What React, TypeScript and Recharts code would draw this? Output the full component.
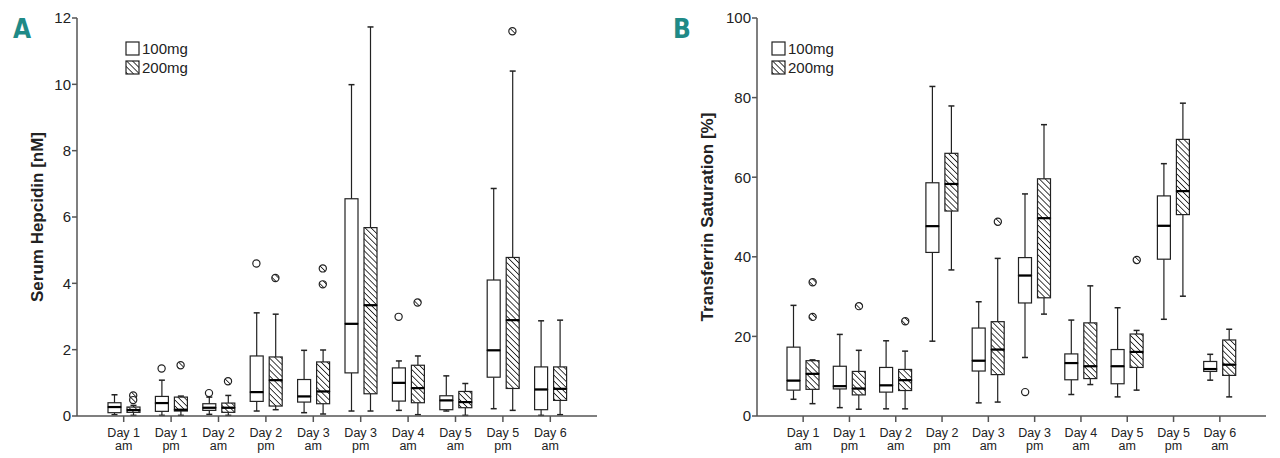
import React from 'react';
import { ComposedChart, Bar, Scatter, XAxis, YAxis, Legend } from 'recharts';

// [min, q1, median, q3, max]
type Five = number[];

const categories = ['Day 1 am', 'Day 1 pm', 'Day 2 am', 'Day 2 pm', 'Day 3 am', 'Day 3 pm', 'Day 4 am', 'Day 5 am', 'Day 5 pm', 'Day 6 am'];
const doses = ['100mg', '200mg'];

const hepcidin100: Five[] = [
  [0.04, 0.1, 0.27, 0.4, 0.64],
  [0.02, 0.14, 0.39, 0.59, 1.08],
  [0.05, 0.17, 0.25, 0.37, 0.57],
  [0.15, 0.44, 0.72, 1.81, 3.11],
  [0.1, 0.42, 0.59, 1.1, 1.98],
  [0.15, 1.3, 2.78, 6.55, 9.99],
  [0.17, 0.45, 1.0, 1.45, 1.66],
  [0.15, 0.19, 0.47, 0.61, 1.21],
  [0.22, 1.17, 1.98, 4.1, 6.86],
  [0.02, 0.19, 0.8, 1.48, 2.87],
];
const hepcidin200: Five[] = [
  [0.02, 0.11, 0.18, 0.27, 0.32],
  [0.02, 0.15, 0.19, 0.57, 0.6],
  [0.02, 0.11, 0.25, 0.39, 0.62],
  [0.19, 0.3, 1.08, 1.78, 3.07],
  [0.06, 0.37, 0.74, 1.63, 1.99],
  [0.15, 0.67, 3.34, 5.68, 11.73],
  [0.04, 0.4, 0.84, 1.53, 1.81],
  [0.02, 0.25, 0.42, 0.74, 0.98],
  [0.17, 0.83, 2.89, 4.78, 10.4],
  [0.04, 0.47, 0.82, 1.48, 2.89],
];
const hepcidin100Out: number[][] = [[], [1.43], [0.69], [4.6], [], [], [2.99], [], [], []];
const hepcidin200Out: number[][] = [[0.62, 0.48], [1.53], [1.05], [4.16], [4.45, 3.97], [], [3.42], [], [11.6], []];
const hepcidinTicks = [0, 2, 4, 6, 8, 10, 12];

const tsat100: Five[] = [
  [4.2, 6.5, 8.9, 17.3, 27.8],
  [2.1, 6.8, 7.5, 12.5, 20.5],
  [1.8, 6.0, 7.7, 12.2, 18.9],
  [18.8, 41.1, 47.7, 58.6, 82.8],
  [3.3, 11.3, 13.9, 22.1, 28.7],
  [14.7, 28.4, 35.3, 39.8, 55.8],
  [5.4, 9.1, 13.3, 15.6, 24.1],
  [4.8, 8.1, 12.5, 16.7, 27.2],
  [24.3, 39.4, 47.8, 55.3, 63.4],
  [9.0, 11.2, 11.8, 13.7, 15.5],
];
const tsat200: Five[] = [
  [3.1, 6.7, 10.6, 13.9, 14.1],
  [1.7, 5.3, 6.9, 11.2, 16.5],
  [1.8, 6.4, 9.0, 11.7, 16.3],
  [36.7, 51.5, 58.3, 66.0, 77.9],
  [3.5, 10.4, 16.7, 23.7, 39.6],
  [25.6, 29.7, 49.7, 59.6, 73.2],
  [7.9, 9.4, 12.5, 23.4, 32.7],
  [6.5, 12.2, 16.1, 20.6, 21.5],
  [30.1, 50.6, 56.5, 69.5, 78.6],
  [4.8, 10.2, 12.9, 19.1, 21.8],
];
const tsat100Out: number[][] = [[], [], [], [], [], [6.0], [], [], [], []];
const tsat200Out: number[][] = [[33.6, 24.9], [27.6], [23.8], [], [48.8], [], [], [39.2], [], []];
const tsatTicks = [0, 20, 40, 60, 80, 100];

const ink = '#222';
const axisColor = '#555';
const font = '"Liberation Sans", Arial, Helvetica, sans-serif';
const capHalf = 3;
const boxGap = 9.5;

function buildRows(s100: Five[], s200: Five[], o100: number[][], o200: number[][]) {
  return categories.map((cat, i) => {
    const row: Record<string, any> = { cat };
    const groups: [string, Five, number[]][] = [['a', s100[i], o100[i]], ['b', s200[i], o200[i]]];
    groups.forEach(([k, s, o]) => {
      row[k + 'Base'] = s[0];
      row[k + 'LoW'] = s[1] - s[0];
      row[k + 'LoB'] = s[2] - s[1];
      row[k + 'HiB'] = s[3] - s[2];
      row[k + 'HiW'] = s[4] - s[3];
      row[k + 'Out0'] = o[0];
      row[k + 'Out1'] = o[1];
    });
    return row;
  });
}

const hidden = () => <g />;

const lowWhisker = (props: any) => {
  const { x, y, width, height } = props;
  const cx = x + width / 2;
  return (
    <g>
      <line x1={cx} x2={cx} y1={y} y2={y + height} stroke={ink} strokeWidth={1.2} />
      <line x1={cx - capHalf} x2={cx + capHalf} y1={y + height} y2={y + height} stroke={ink} strokeWidth={1.5} />
    </g>
  );
};

const highWhisker = (props: any) => {
  const { x, y, width, height } = props;
  const cx = x + width / 2;
  return (
    <g>
      <line x1={cx} x2={cx} y1={y} y2={y + height} stroke={ink} strokeWidth={1.2} />
      <line x1={cx - capHalf} x2={cx + capHalf} y1={y} y2={y} stroke={ink} strokeWidth={1.5} />
    </g>
  );
};

const boxPart = (fill: string, median: boolean) => (props: any) => {
  const { x, y, width, height } = props;
  return (
    <g>
      <rect x={x} y={y} width={width} height={height} fill={fill} stroke={ink} strokeWidth={1.2} />
      {median && <line x1={x} x2={x + width} y1={y + height} y2={y + height} stroke="#000" strokeWidth={2.2} />}
    </g>
  );
};

const outlier = (dataKey: string, dx: number, fill: string) => (props: any) => {
  if (props.payload == null || props.payload[dataKey] == null) return <g />;
  return <circle cx={props.cx + dx} cy={props.cy} r={3.6} fill={fill} stroke={ink} strokeWidth={1.2} />;
};

const DayTick = (props: any) => {
  const { x, y, payload } = props;
  const parts = String(payload.value).split(' ');
  return (
    <text x={x} y={y} textAnchor="middle" fontSize={12.5} fill={ink} fontFamily={font}>
      <tspan x={x} dy={13}>{parts[0] + ' ' + parts[1]}</tspan>
      <tspan x={x} dy={12.5}>{parts[2]}</tspan>
    </text>
  );
};

const YTitle = (props: any) => {
  const { viewBox, text, titleX } = props;
  const cx = titleX;
  const cy = viewBox.y + viewBox.height / 2;
  return (
    <text
      x={cx}
      y={cy}
      transform={`rotate(-90 ${cx} ${cy})`}
      textAnchor="middle"
      dominantBaseline="central"
      fontFamily={font}
      fontWeight="bold"
      fontSize={17}
      fill={ink}
    >
      {text}
    </text>
  );
};

const HatchDef = ({ id }: { id: string }) => (
  <pattern id={id} patternUnits="userSpaceOnUse" width={4.2} height={4.2} patternTransform="rotate(-45)">
    <rect width={4.2} height={4.2} fill="#fff" />
    <line x1={0} y1={0} x2={0} y2={4.2} stroke="#111" strokeWidth={1.6} />
  </pattern>
);

const legendContent = (hatchId: string) => () => (
  <div style={{ fontFamily: font, fontSize: 15, color: ink, lineHeight: '19px' }}>
    {doses.map((d, i) => (
      <div key={d} style={{ display: 'flex', alignItems: 'center', height: 19 }}>
        <svg width={15} height={15} style={{ marginRight: 2 }}>
          <defs>
            <HatchDef id={hatchId + '-leg'} />
          </defs>
          <rect x={1} y={1} width={13} height={13} fill={i === 0 ? '#fff' : `url(#${hatchId}-leg)`} stroke={ink} strokeWidth={1.2} />
        </svg>
        <span>{d}</span>
      </div>
    ))}
  </div>
);

interface PanelProps {
  hatchId: string;
  rows: Record<string, any>[];
  ticks: number[];
  yLabel: string;
  yAxisWidth: number;
  rightMargin: number;
  titleX: number;
  legendLeft: number;
}

const BoxPanel: React.FC<PanelProps> = ({ hatchId, rows, ticks, yLabel, yAxisWidth, rightMargin, titleX, legendLeft }) => {
  const hatch = `url(#${hatchId})`;
  const top = ticks[ticks.length - 1];
  return (
    <ComposedChart
      width={640}
      height={458}
      data={rows}
      margin={{ top: 18, right: rightMargin, bottom: 0, left: 0 }}
      barSize={13}
      barGap={6}
      style={{ fontFamily: font }}
    >
      <defs>
        <HatchDef id={hatchId} />
      </defs>
      <XAxis
        dataKey="cat"
        height={42}
        padding={{ left: 23, right: 23 }}
        tick={<DayTick />}
        tickSize={6}
        tickMargin={2}
        interval={0}
        axisLine={{ stroke: axisColor, strokeWidth: 1.5 }}
        tickLine={{ stroke: axisColor, strokeWidth: 1.5 }}
      />
      <XAxis xAxisId="top" orientation="top" dataKey="cat" height={0} tick={false} tickLine={false} axisLine={{ stroke: axisColor, strokeWidth: 1.5 }} />
      <YAxis
        domain={[0, top]}
        ticks={ticks}
        width={yAxisWidth}
        tickSize={5}
        tickMargin={1}
        tick={{ fontSize: 15, fill: ink, fontFamily: font }}
        axisLine={{ stroke: axisColor, strokeWidth: 1.5 }}
        tickLine={{ stroke: axisColor, strokeWidth: 1.5 }}
        label={<YTitle text={yLabel} titleX={titleX} />}
      />
      <YAxis yAxisId="right" orientation="right" domain={[0, 1]} width={0} tick={false} tickLine={false} axisLine={{ stroke: axisColor, strokeWidth: 1.5 }} />
      <Legend layout="vertical" align="center" verticalAlign="middle" content={legendContent(hatchId)} wrapperStyle={{ left: legendLeft, top: 39, width: 'auto', height: 'auto' }} />

      <Bar dataKey="aBase" stackId="g100" shape={hidden} isAnimationActive={false} legendType="none" />
      <Bar dataKey="aLoW" stackId="g100" shape={lowWhisker} isAnimationActive={false} legendType="none" />
      <Bar dataKey="aLoB" stackId="g100" shape={boxPart('#fff', false)} isAnimationActive={false} legendType="none" />
      <Bar dataKey="aHiB" stackId="g100" shape={boxPart('#fff', true)} isAnimationActive={false} legendType="none" />
      <Bar dataKey="aHiW" stackId="g100" shape={highWhisker} isAnimationActive={false} legendType="none" />

      <Bar dataKey="bBase" stackId="g200" shape={hidden} isAnimationActive={false} legendType="none" />
      <Bar dataKey="bLoW" stackId="g200" shape={lowWhisker} isAnimationActive={false} legendType="none" />
      <Bar dataKey="bLoB" stackId="g200" shape={boxPart(hatch, false)} isAnimationActive={false} legendType="none" />
      <Bar dataKey="bHiB" stackId="g200" shape={boxPart(hatch, true)} isAnimationActive={false} legendType="none" />
      <Bar dataKey="bHiW" stackId="g200" shape={highWhisker} isAnimationActive={false} legendType="none" />

      <Scatter dataKey="aOut0" shape={outlier('aOut0', -boxGap, '#fff')} isAnimationActive={false} legendType="none" />
      <Scatter dataKey="aOut1" shape={outlier('aOut1', -boxGap, '#fff')} isAnimationActive={false} legendType="none" />
      <Scatter dataKey="bOut0" shape={outlier('bOut0', boxGap, hatch)} isAnimationActive={false} legendType="none" />
      <Scatter dataKey="bOut1" shape={outlier('bOut1', boxGap, hatch)} isAnimationActive={false} legendType="none" />
    </ComposedChart>
  );
};

const letterStyle: React.CSSProperties = {
  position: 'absolute',
  top: 16,
  fontFamily: '"DejaVu Sans Condensed", "DejaVu Sans", sans-serif',
  fontStretch: 'condensed',
  fontWeight: 'bold',
  fontSize: 26,
  lineHeight: '26px',
  color: '#1f8a87',
};

export default function App() {
  const hepRows = buildRows(hepcidin100, hepcidin200, hepcidin100Out, hepcidin200Out);
  const tsatRows = buildRows(tsat100, tsat200, tsat100Out, tsat200Out);
  return (
    <div style={{ position: 'absolute', left: 0, top: 0, width: 1280, height: 458, background: '#fff', overflow: 'hidden' }}>
      <div style={{ position: 'absolute', left: 0, top: 0 }}>
        <BoxPanel hatchId="hatchA" rows={hepRows} ticks={hepcidinTicks} yLabel="Serum Hepcidin [nM]" yAxisWidth={77} rightMargin={43} titleX={37} legendLeft={125} />
      </div>
      <div style={{ position: 'absolute', left: 640, top: 0 }}>
        <BoxPanel hatchId="hatchB" rows={tsatRows} ticks={tsatTicks} yLabel="Transferrin Saturation [%]" yAxisWidth={117} rightMargin={14} titleX={67} legendLeft={131} />
      </div>
      <div style={{ ...letterStyle, left: 13 }}>A</div>
      <div style={{ ...letterStyle, left: 673 }}>B</div>
    </div>
  );
}
